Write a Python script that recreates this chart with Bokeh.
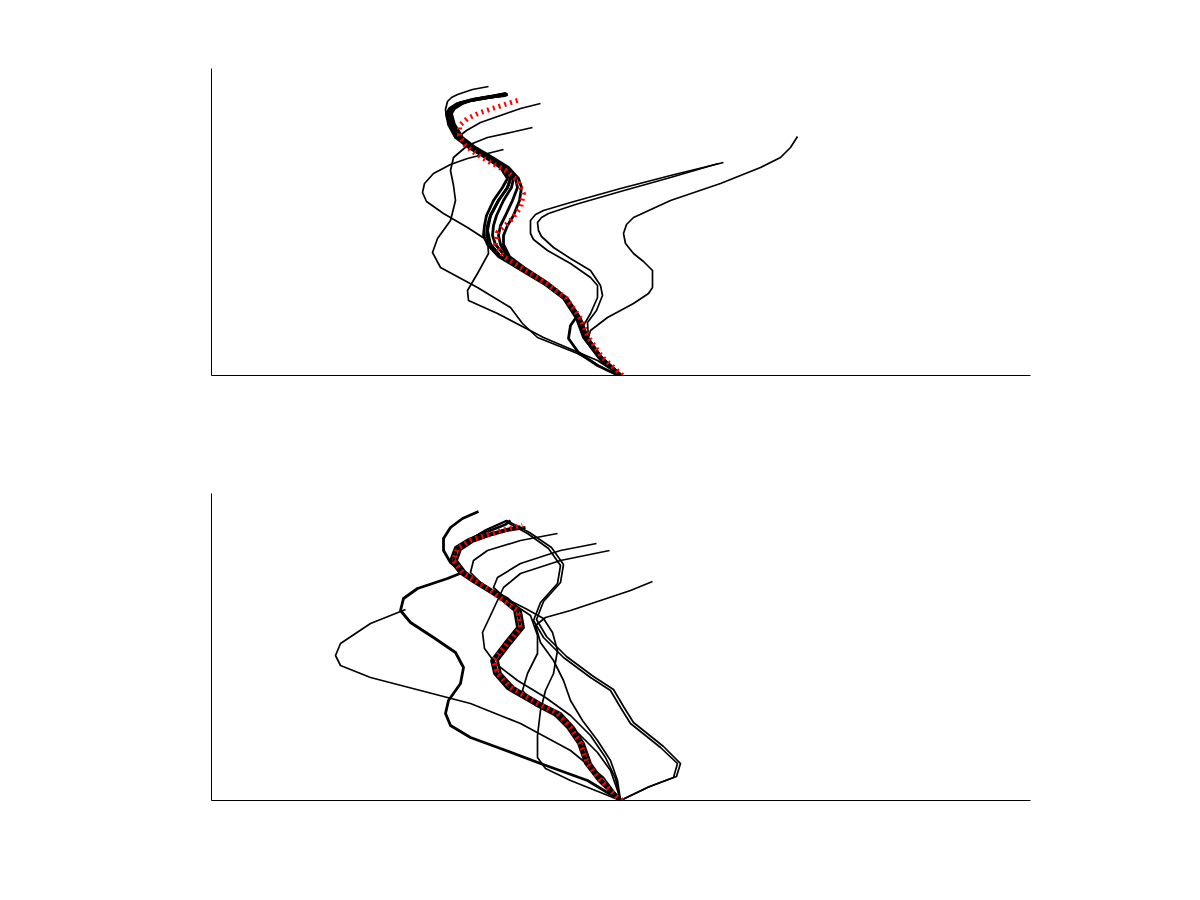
from bokeh.plotting import figure
from bokeh.models import Range1d, FixedTicker
from bokeh.layouts import column
from bokeh.embed import file_html
from bokeh.resources import INLINE

# ---------------- data (arbitrary units) ----------------
# Upper panel trajectories: (x, level)
TOP_M1 = [(420,0),(400,18),(385,38),(378,57),(365,77),(345,92),(320,107),(300,119),(290,131),(286,140),(287,150),(290,160),(298,175),(307,188),(310,197),(303,208),(287,218),(270,228),(257,238),(250,251),(247,262),(250,267),(258,272),(270,275),(287,278),(307,281)]
TOP_M2 = [(421,0),(401,18),(387,38),(379,57),(366,77),(347,92),(323,107),(305,119),(295,131),(292,140),(293,150),(296,160),(303,175),(311,188),(313,197),(306,208),(290,218),(273,228),(260,238),(252,251),(249,262),(252,268),(260,273),(272,276),(290,279),(305,282)]
TOP_M3 = [(419,0),(398,18),(383,38),(376,57),(363,77),(343,92),(318,107),(298,119),(287,131),(283,140),(284,150),(286,160),(293,175),(302,188),(307,197),(300,208),(285,218),(268,228),(255,238),(248,251),(246,262),(249,267),(257,272),(268,275),(285,278),(305,280)]
TOP_M4 = [(420,0),(401,18),(386,38),(379,57),(366,77),(347,92),(324,107),(307,119),(300,131),(298,140),(300,150),(305,160),(312,175),(317,188),(315,197),(306,208),(289,218),(272,228),(259,238),(251,251),(248,262),(251,267),(259,272),(271,275),(288,278),(307,281)]
TOP_M5 = [(421,0),(401,18),(387,38),(380,57),(367,77),(348,92),(325,107),(309,119),(303,131),(303,140),(307,150),(313,160),(319,175),(321,188),(318,197),(308,208),(292,218),(275,228),(262,238),(254,251),(251,262),(254,267),(262,272),(274,276),(290,279),(306,282)]
TOP_K  = [(418,0),(397,10),(378,23),(368,37),(370,50),(377,60),(366,75),(345,92),(320,107),(300,119),(290,131),(287,145),(290,160),(298,175),(307,188),(310,197),(303,208),(287,218),(270,228),(257,238),(250,251),(247,262),(253,269),(270,275),(287,278),(307,281)]
TOP_B  = [(420,0),(400,18),(385,38),(378,57),(365,77),(345,92),(320,107),(300,119),(290,131),(287,145),(290,160),(298,175),(307,188),(310,197),(303,208),(287,218),(270,228),(257,238),(250,251),(246,258),(245,266),(247,274),(251,278),(257,281),(272,286),(288,289)]
TOP_C  = [(420,0),(400,18),(385,38),(378,57),(365,77),(345,92),(320,107),(300,119),(290,131),(287,145),(290,160),(298,175),(307,188),(310,197),(303,208),(287,218),(270,228),(257,238),(266,245),(280,253),(300,260),(320,267),(340,272)]
TOP_D  = [(420,0),(407,5),(377,22),(337,38),(322,52),(310,68),(277,88),(240,108),(232,123),(237,137),(250,155),(255,175),(253,190),(250,205),(253,218),(267,230),(287,238),(310,243),(332,248)]
TOP_E  = [(420,0),(397,15),(343,38),(297,62),(268,75),(267,85),(277,102),(288,122),(287,135),(267,148),(243,162),(226,174),(222,183),(224,192),(233,202),(250,211),(267,217),(303,226)]
TOP_G1 = [(420,0),(400,17),(385,35),(383,50),(390,62),(397,78),(397,90),(390,98),(370,112),(347,125),(333,136),(330,142),(330,155),(335,161),(343,165),(370,173),(420,187),(470,200),(523,213)]
TOP_G2 = [(420,0),(402,17),(388,35),(387,53),(396,65),(402,80),(400,90),(390,105),(370,117),(353,128),(341,139),(338,145),(337,153),(341,158),(348,162),(375,171),(420,184),(470,198),(518,212)]
TOP_H  = [(420,0),(400,15),(387,35),(390,45),(407,58),(433,72),(448,82),(452,88),(452,105),(443,114),(433,122),(425,132),(423,142),(426,151),(433,158),(470,175),(520,192),(560,208),(580,218),(590,228),(597,239)]
TOP_RED = [(422,0),(402,18),(388,38),(380,57),(366,77),(346,92),(322,107),(303,119),(295,131),(297,143),(310,155),(320,168),(323,182),(317,195),(305,205),(290,213),(275,222),(265,230),(259,240),(259,250),(267,257),(280,263),(295,268),(320,276)]

# Lower panel trajectories
BOT_N1 = [(419,0),(398,20),(385,37),(378,57),(367,73),(353,87),(333,97),(307,112),(294,127),(291,140),(304,157),(317,173),(314,190),(300,202),(287,210),(274,218),(259,228),(250,240),(255,253),(268,261),(285,268),(305,276),(310,280)]
BOT_N2 = [(421,0),(402,20),(390,37),(383,57),(373,73),(360,87),(340,97),(313,113),(300,127),(297,140),(310,157),(323,173),(320,190),(307,202),(292,210),(279,218),(265,228),(256,240),(260,251),(272,259),(289,265),(307,270),(325,273)]
BOT_P1 = [(420,0),(400,20),(387,37),(380,57),(370,73),(357,87),(337,97),(310,113),(297,127),(293,140),(307,157),(320,173),(317,190),(303,200),(290,210),(277,218),(262,228),(250,238),(243,250),(243,262),(250,273),(262,282),(278,289)]
BOT_P2A = [(420,0),(447,13),(473,23),(477,37),(460,53),(430,77),(420,93),(410,110),(390,123),(363,143),(343,163),(333,180),(340,198),(357,217),(360,235),(348,252),(327,267),(305,279),(285,270),(268,260),(257,250)]
BOT_P2B = [(420,0),(449,14),(476,24),(480,37),(463,54),(433,78),(423,94),(413,111),(393,124),(366,144),(346,164),(336,181),(343,199),(360,218),(363,236),(351,253),(329,268),(306,280),(286,271),(269,261),(258,251)]
BOT_P3 = [(357,267),(320,260),(287,250),(273,240),(270,228),(280,218),(297,206),(315,195),(330,185),(337,165),(337,147),(327,127),(322,110),(335,95),(360,82),(380,65),(397,48),(410,30),(417,10),(420,0)]
BOT_P4 = [(396,257),(360,250),(320,237),(297,223),(293,213),(305,202),(325,192),(343,182),(352,168),(357,150),(353,127),(345,110),(340,90),(337,65),(337,43),(345,32),(370,20),(400,8),(420,0)]
BOT_P5 = [(409,250),(360,240),(320,227),(303,213),(297,200),(290,185),(282,168),(284,152),(295,137),(317,120),(345,103),(370,85),(390,65),(405,43),(415,22),(420,0)]
BOT_P6 = [(452,219),(430,210),(400,200),(370,190),(345,183),(335,175),(340,158),(353,140),(363,120),(370,100),(382,80),(397,60),(410,40),(417,20),(420,0)]
BOT_L1 = [(205,191),(170,177),(140,157),(135,145),(140,135),(170,123),(220,110),(270,97),(320,77),(370,50),(403,23),(420,0)]
BOT_L2 = [(320,274),(305,271),(287,266),(270,260),(257,252),(253,240),(262,228),(247,222),(217,212),(203,202),(200,190),(210,178),(233,163),(255,148),(263,133),(260,117),(248,100),(245,87),(250,75),(270,63),(300,52),(340,37),(387,20),(420,0)]
BOT_RED = [(422,0),(417,3),(400,20),(387,37),(380,57),(370,73),(357,87),(337,97),(310,113),(297,127),(293,140),(307,157),(320,173),(317,190),(303,200),(290,210),(277,218),(262,228),(253,240),(257,252),(270,260),(287,266),(305,271),(322,275)]

TOP_BUNDLE = [TOP_M1, TOP_M2, TOP_M3, TOP_M4, TOP_M5, TOP_K]
TOP_OTHER = [TOP_B, TOP_C, TOP_D, TOP_E, TOP_G1, TOP_G2, TOP_H]
BOT_BUNDLE = [BOT_N1, BOT_N2, BOT_P1, BOT_L2]
BOT_OTHER = [BOT_P2A, BOT_P2B, BOT_P3, BOT_P4, BOT_P5, BOT_P6, BOT_L1]


def make_panel(bundle, other, red, height, bottom_border):
    p = figure(width=1200, height=height, x_range=Range1d(11, 830), y_range=Range1d(0, 307),
               output_backend="svg", toolbar_location=None,
               min_border_left=211, min_border_right=170, min_border_top=68,
               min_border_bottom=bottom_border)
    p.grid.visible = False
    p.outline_line_color = None
    for ax in (p.xaxis, p.yaxis):
        ax.ticker = FixedTicker(ticks=[])
        ax.major_tick_line_color = None
        ax.minor_tick_line_color = None
        ax.major_label_text_font_size = "0px"
        ax.axis_line_color = "black"
        ax.axis_line_width = 1
    for curve in other:
        p.line([c[0] for c in curve], [c[1] for c in curve],
               line_color="black", line_width=1.7, line_join="round")
    for curve in bundle:
        p.line([c[0] for c in curve], [c[1] for c in curve],
               line_color="black", line_width=2.8, line_join="round")
    p.line([c[0] for c in red], [c[1] for c in red],
           line_color="#ff0000", line_width=5, line_dash="2 4")
    return p


p1 = make_panel(TOP_BUNDLE, TOP_OTHER, TOP_RED, 425, 50)
p2 = make_panel(BOT_BUNDLE, BOT_OTHER, BOT_RED, 475, 100)
layout = column(p1, p2, spacing=0)

open("out.html", "w").write(file_html(layout, INLINE))
